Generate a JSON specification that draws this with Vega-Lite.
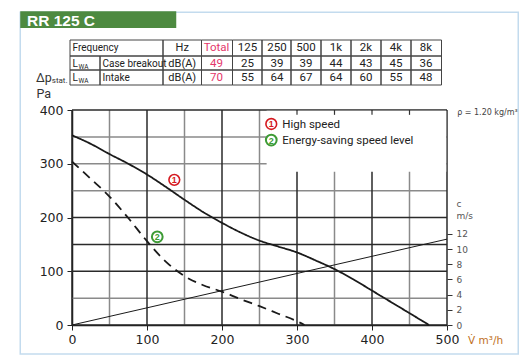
{
  "$schema": "https://vega.github.io/schema/vega-lite/v6.json",
  "width": 375,
  "height": 215,
  "autosize": {"type": "none"},
  "padding": {"left": 72, "top": 110, "right": 82, "bottom": 33},
  "background": "white",
  "config": {"view": {"stroke": null}, "font": "Liberation Sans", "axis": {"grid": false}},
  "datasets": {
    "curves": [
      {"series": "High speed", "q": 0, "p": 353},
      {"series": "High speed", "q": 25, "p": 337},
      {"series": "High speed", "q": 50, "p": 318},
      {"series": "High speed", "q": 75, "p": 300},
      {"series": "High speed", "q": 100, "p": 280},
      {"series": "High speed", "q": 125, "p": 257},
      {"series": "High speed", "q": 150, "p": 233},
      {"series": "High speed", "q": 175, "p": 210},
      {"series": "High speed", "q": 200, "p": 190},
      {"series": "High speed", "q": 225, "p": 172},
      {"series": "High speed", "q": 250, "p": 157},
      {"series": "High speed", "q": 275, "p": 146},
      {"series": "High speed", "q": 300, "p": 135},
      {"series": "High speed", "q": 325, "p": 120},
      {"series": "High speed", "q": 350, "p": 104},
      {"series": "High speed", "q": 375, "p": 85},
      {"series": "High speed", "q": 400, "p": 64},
      {"series": "High speed", "q": 425, "p": 43},
      {"series": "High speed", "q": 450, "p": 22},
      {"series": "High speed", "q": 476, "p": 0},
      {"series": "Energy-saving speed level", "q": 0, "p": 304},
      {"series": "Energy-saving speed level", "q": 25, "p": 272},
      {"series": "Energy-saving speed level", "q": 50, "p": 239},
      {"series": "Energy-saving speed level", "q": 75, "p": 199},
      {"series": "Energy-saving speed level", "q": 100, "p": 156},
      {"series": "Energy-saving speed level", "q": 125, "p": 118},
      {"series": "Energy-saving speed level", "q": 150, "p": 91},
      {"series": "Energy-saving speed level", "q": 175, "p": 74},
      {"series": "Energy-saving speed level", "q": 200, "p": 62},
      {"series": "Energy-saving speed level", "q": 225, "p": 48},
      {"series": "Energy-saving speed level", "q": 250, "p": 35},
      {"series": "Energy-saving speed level", "q": 275, "p": 21},
      {"series": "Energy-saving speed level", "q": 300, "p": 7},
      {"series": "Energy-saving speed level", "q": 310, "p": 0}
    ],
    "velocity": [
      {"q": 0, "v": 0},
      {"q": 500, "v": 11.3}
    ],
    "table": [
      {"r": 0, "r2": 1, "c": 0, "c2": 2, "t": "Frequency"},
      {"r": 0, "r2": 1, "c": 2, "c2": 3, "t": "Hz"},
      {"r": 0, "r2": 1, "c": 3, "c2": 4, "t": "Total"},
      {"r": 0, "r2": 1, "c": 4, "c2": 5, "t": "125"},
      {"r": 0, "r2": 1, "c": 5, "c2": 6, "t": "250"},
      {"r": 0, "r2": 1, "c": 6, "c2": 7, "t": "500"},
      {"r": 0, "r2": 1, "c": 7, "c2": 8, "t": "1k"},
      {"r": 0, "r2": 1, "c": 8, "c2": 9, "t": "2k"},
      {"r": 0, "r2": 1, "c": 9, "c2": 10, "t": "4k"},
      {"r": 0, "r2": 1, "c": 10, "c2": 11, "t": "8k"},
      {"r": 1, "r2": 2, "c": 0, "c2": 1, "t": "L"},
      {"r": 1, "r2": 2, "c": 1, "c2": 2, "t": "Case breakout"},
      {"r": 1, "r2": 2, "c": 2, "c2": 3, "t": "dB(A)"},
      {"r": 1, "r2": 2, "c": 3, "c2": 4, "t": "49"},
      {"r": 1, "r2": 2, "c": 4, "c2": 5, "t": "25"},
      {"r": 1, "r2": 2, "c": 5, "c2": 6, "t": "39"},
      {"r": 1, "r2": 2, "c": 6, "c2": 7, "t": "39"},
      {"r": 1, "r2": 2, "c": 7, "c2": 8, "t": "44"},
      {"r": 1, "r2": 2, "c": 8, "c2": 9, "t": "43"},
      {"r": 1, "r2": 2, "c": 9, "c2": 10, "t": "45"},
      {"r": 1, "r2": 2, "c": 10, "c2": 11, "t": "36"},
      {"r": 2, "r2": 3, "c": 0, "c2": 1, "t": "L"},
      {"r": 2, "r2": 3, "c": 1, "c2": 2, "t": "Intake"},
      {"r": 2, "r2": 3, "c": 2, "c2": 3, "t": "dB(A)"},
      {"r": 2, "r2": 3, "c": 3, "c2": 4, "t": "70"},
      {"r": 2, "r2": 3, "c": 4, "c2": 5, "t": "55"},
      {"r": 2, "r2": 3, "c": 5, "c2": 6, "t": "64"},
      {"r": 2, "r2": 3, "c": 6, "c2": 7, "t": "67"},
      {"r": 2, "r2": 3, "c": 7, "c2": 8, "t": "64"},
      {"r": 2, "r2": 3, "c": 8, "c2": 9, "t": "60"},
      {"r": 2, "r2": 3, "c": 9, "c2": 10, "t": "55"},
      {"r": 2, "r2": 3, "c": 10, "c2": 11, "t": "48"}
    ],
    "gridXMajor": [{"gx": 0}, {"gx": 100}, {"gx": 200}, {"gx": 300}, {"gx": 400}, {"gx": 500}],
    "gridXMinor": [{"gx": 50}, {"gx": 150}, {"gx": 250}, {"gx": 350}, {"gx": 450}],
    "gridYMajor": [{"gy": 0}, {"gy": 100}, {"gy": 150}, {"gy": 200}, {"gy": 400}],
    "gridYMinor": [{"gy": 50}, {"gy": 250}, {"gy": 300}, {"gy": 350}],
    "topTicks": [{"q": 300}, {"q": 350}, {"q": 400}, {"q": 450}]
  },
  "layer": [
    {
      "layer": [
        {
          "data": {"name": "gridXMinor"},
          "mark": {"type": "rule", "stroke": "#8a8a8a", "strokeWidth": 1.5},
          "encoding": {
            "x": {"field": "gx", "type": "quantitative"},
            "y": {"datum": 0},
            "y2": {"datum": 400}
          }
        },
        {
          "data": {"name": "gridYMinor"},
          "mark": {"type": "rule", "stroke": "#8a8a8a", "strokeWidth": 1.5},
          "encoding": {
            "y": {"field": "gy", "type": "quantitative"},
            "x": {"datum": 0},
            "x2": {"datum": 500}
          }
        },
        {
          "data": {"name": "gridXMajor"},
          "mark": {"type": "rule", "stroke": "#2a2a2a", "strokeWidth": 1.5},
          "encoding": {
            "x": {"field": "gx", "type": "quantitative"},
            "y": {"datum": 0},
            "y2": {"datum": 400}
          }
        },
        {
          "data": {"name": "gridYMajor"},
          "mark": {"type": "rule", "stroke": "#2a2a2a", "strokeWidth": 1.5},
          "encoding": {
            "y": {"field": "gy", "type": "quantitative"},
            "x": {"datum": 0},
            "x2": {"datum": 500}
          }
        },
        {
          "data": {"values": [{}]},
          "mark": {"type": "rect", "fill": "transparent", "stroke": "#c3dbee", "strokeWidth": 1.5},
          "encoding": {
            "x": {"datum": -69},
            "x2": {"datum": 595},
            "y": {"datum": 582},
            "y2": {"datum": -54}
          }
        },
        {
          "data": {"values": [{}]},
          "mark": {"type": "rect", "fill": "#4d8a40"},
          "encoding": {
            "x": {"datum": -69},
            "x2": {"datum": 139},
            "y": {"datum": 583.5},
            "y2": {"datum": 552.5}
          }
        },
        {
          "data": {"values": [{}]},
          "mark": {"type": "text", "text": "RR 125 C", "color": "white", "font": "Liberation Sans", "fontWeight": "bold", "fontSize": 15.5, "align": "left", "baseline": "alphabetic"},
          "encoding": {
            "x": {"datum": -60},
            "y": {"datum": 556}
          }
        },
        {
          "data": {"values": [{}]},
          "mark": {"type": "rect", "fill": "white"},
          "encoding": {
            "x": {"datum": 259.5},
            "x2": {"datum": 499},
            "y": {"datum": 285},
            "y2": {"datum": 398.6}
          }
        },
        {
          "data": {"name": "topTicks"},
          "mark": {"type": "rule", "stroke": "#333", "strokeWidth": 1.2},
          "encoding": {
            "x": {"field": "q", "type": "quantitative"},
            "y": {"datum": 400},
            "y2": {"datum": 391}
          }
        },
        {
          "data": {"name": "curves"},
          "mark": {"type": "line", "color": "#1a1a1a", "strokeWidth": 1.8, "interpolate": "monotone"},
          "encoding": {
            "x": {
              "field": "q", "type": "quantitative",
              "scale": {"domain": [0, 500], "nice": false, "zero": false},
              "axis": {
                "title": null,
                "values": [0, 100, 200, 300, 400, 500],
                "grid": false,
                "tickSize": 5,
                "tickColor": "#222",
                "domainColor": "#111",
                "domainWidth": 1.5,
                "labelFont": "DejaVu Sans",
                "labelFontSize": 12.5,
                "labelColor": "#222",
                "labelPadding": 3,
                "labelOverlap": false,
                "labelFlush": false
              }
            },
            "y": {
              "field": "p", "type": "quantitative",
              "scale": {"domain": [0, 400], "nice": false, "zero": false},
              "axis": {
                "title": null,
                "values": [0, 100, 200, 300, 400],
                "grid": false,
                "tickSize": 5,
                "tickColor": "#222",
                "domainColor": "#111",
                "domainWidth": 1.5,
                "labelFont": "DejaVu Sans",
                "labelFontSize": 12.5,
                "labelColor": "#222",
                "labelPadding": 4,
                "labelOverlap": false,
                "labelFlush": false
              }
            },
            "detail": {"field": "series", "type": "nominal"},
            "strokeDash": {
              "field": "series", "type": "nominal",
              "scale": {"domain": ["High speed", "Energy-saving speed level"], "range": [[1, 0], [9, 6]]},
              "legend": null
            }
          }
        },
        {
          "data": {"values": [{}]},
          "encoding": {"x": {"datum": 136.4}, "y": {"datum": 270}},
          "layer": [
            {"mark": {"type": "point", "shape": "circle", "size": 115, "filled": true, "fill": "white", "stroke": "#d51920", "strokeWidth": 1.6, "opacity": 1}},
            {"mark": {"type": "text", "text": "1", "color": "#d51920", "fontWeight": "bold", "fontSize": 9, "align": "center", "baseline": "middle", "dy": 0.5}}
          ]
        },
        {
          "data": {"values": [{}]},
          "encoding": {"x": {"datum": 113.7}, "y": {"datum": 164}},
          "layer": [
            {"mark": {"type": "point", "shape": "circle", "size": 115, "filled": true, "fill": "white", "stroke": "#3d9b35", "strokeWidth": 2, "opacity": 1}},
            {"mark": {"type": "text", "text": "2", "color": "#3d9b35", "fontWeight": "bold", "fontSize": 9, "align": "center", "baseline": "middle", "dy": 0.5}}
          ]
        },
        {
          "data": {"values": [{}]},
          "encoding": {"x": {"datum": 265.7}, "y": {"datum": 374}},
          "layer": [
            {"mark": {"type": "point", "shape": "circle", "size": 115, "filled": true, "fill": "white", "stroke": "#d51920", "strokeWidth": 1.6, "opacity": 1}},
            {"mark": {"type": "text", "text": "1", "color": "#d51920", "fontWeight": "bold", "fontSize": 9, "align": "center", "baseline": "middle", "dy": 0.5}},
            {"mark": {"type": "text", "text": "High speed", "color": "#222", "font": "Roboto", "fontSize": 11.5, "align": "left", "baseline": "middle", "dx": 11, "dy": 1}}
          ]
        },
        {
          "data": {"values": [{}]},
          "encoding": {"x": {"datum": 265.7}, "y": {"datum": 344}},
          "layer": [
            {"mark": {"type": "point", "shape": "circle", "size": 115, "filled": true, "fill": "white", "stroke": "#3d9b35", "strokeWidth": 2, "opacity": 1}},
            {"mark": {"type": "text", "text": "2", "color": "#3d9b35", "fontWeight": "bold", "fontSize": 9, "align": "center", "baseline": "middle", "dy": 0.5}},
            {"mark": {"type": "text", "text": "Energy-saving speed level", "color": "#222", "font": "Roboto", "fontSize": 11.5, "align": "left", "baseline": "middle", "dx": 11, "dy": 1}}
          ]
        },
        {
          "data": {"values": [{}]},
          "mark": {"type": "text", "text": "ρ = 1.20 kg/m³", "color": "#444", "font": "DejaVu Sans", "fontSize": 8, "align": "left", "baseline": "middle"},
          "encoding": {"x": {"datum": 513.5}, "y": {"datum": 394}}
        },
        {
          "data": {"values": [{}]},
          "mark": {"type": "text", "text": "Δp", "color": "#333", "font": "Roboto", "fontSize": 12.5, "align": "left", "baseline": "alphabetic"},
          "encoding": {"x": {"datum": -48}, "y": {"datum": 453}}
        },
        {
          "data": {"values": [{}]},
          "mark": {"type": "text", "text": "stat.", "color": "#333", "font": "Roboto", "fontSize": 8, "align": "left", "baseline": "alphabetic"},
          "encoding": {"x": {"datum": -27}, "y": {"datum": 449.5}}
        },
        {
          "data": {"values": [{}]},
          "mark": {"type": "text", "text": "Pa", "color": "#333", "font": "Roboto", "fontSize": 12.5, "align": "left", "baseline": "middle"},
          "encoding": {"x": {"datum": -47.5}, "y": {"datum": 430.5}}
        },
        {
          "data": {"values": [{}]},
          "mark": {"type": "text", "text": "V̇ m³/h", "color": "#c0701e", "font": "DejaVu Sans", "fontSize": 10.5, "align": "left", "baseline": "middle"},
          "encoding": {"x": {"datum": 528}, "y": {"datum": -30}}
        }
      ]
    },
    {
      "data": {"name": "velocity"},
      "mark": {"type": "line", "color": "#1a1a1a", "strokeWidth": 1},
      "encoding": {
        "x": {"field": "q", "type": "quantitative", "scale": {"domain": [0, 500], "nice": false, "zero": false}, "axis": null},
        "y": {
          "field": "v", "type": "quantitative",
          "scale": {"domain": [0, 28.29], "nice": false, "zero": false},
          "axis": {
            "orient": "right",
            "title": null,
            "values": [0, 2, 4, 6, 8, 10, 12, 14.35, 16.05],
            "labelExpr": "datum.value > 15 ? 'c' : (datum.value > 13 ? 'm/s' : datum.label)",
            "tickOpacity": {"condition": {"test": "datum.value > 13", "value": 0}, "value": 1},
            "tickSize": 5,
            "tickColor": "#333",
            "domain": false,
            "grid": false,
            "labelFont": "DejaVu Sans",
            "labelFontSize": 9,
            "labelColor": "#555",
            "labelPadding": 4,
            "labelOverlap": false,
            "labelFlush": false,
            "labelBaseline": "middle"
          }
        }
      }
    },
    {
      "data": {"name": "table"},
      "encoding": {
        "x": {"field": "c", "type": "quantitative", "axis": null, "scale": {"domain": [0, 1, 2, 3, 4, 5, 6, 7, 8, 9, 10, 11], "range": [-2, 28, 91, 129.5, 160.5, 190, 219, 249, 279, 309, 339, 369.5], "nice": false, "zero": false}},
        "y": {"field": "r", "type": "quantitative", "axis": null, "scale": {"domain": [0, 1, 2, 3], "range": [-70, -54, -40, -25], "nice": false, "zero": false}}
      },
      "layer": [
        {
          "mark": {"type": "rect", "fill": "transparent", "stroke": "#444", "strokeWidth": 1},
          "encoding": {"x2": {"field": "c2"}, "y2": {"field": "r2"}}
        },
        {
          "transform": [{"filter": "datum.c <= 1"}],
          "mark": {"type": "text", "align": "left", "baseline": "middle", "dx": 2.5, "dy": 7.5, "font": "Roboto", "fontSize": 10, "color": "#222"},
          "encoding": {"text": {"field": "t"}}
        },
        {
          "transform": [{"filter": "datum.t === 'L'"}],
          "mark": {"type": "text", "text": "WA", "align": "left", "baseline": "middle", "dx": 8.5, "dy": 10.5, "font": "Roboto", "fontSize": 6.5, "color": "#222"}
        },
        {
          "transform": [{"filter": "datum.c === 2"}],
          "mark": {"type": "text", "align": "center", "baseline": "middle", "dx": 19.25, "dy": 7.5, "font": "Roboto", "fontSize": 11, "color": "#222"},
          "encoding": {"text": {"field": "t"}}
        },
        {
          "transform": [{"filter": "datum.c >= 3"}],
          "mark": {"type": "text", "align": "center", "baseline": "middle", "dx": 15, "dy": 7.5, "font": "Roboto", "fontSize": 11.5},
          "encoding": {
            "text": {"field": "t"},
            "color": {"condition": {"test": "datum.c === 3", "value": "#e4376b"}, "value": "#222"}
          }
        }
      ]
    }
  ],
  "resolve": {"scale": {"x": "independent", "y": "independent"}}
}
